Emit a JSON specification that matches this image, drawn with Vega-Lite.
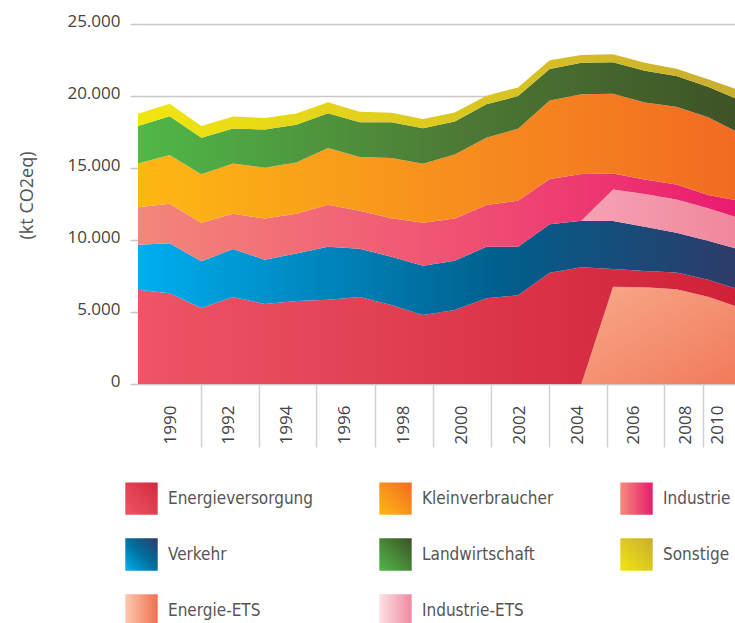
{
  "$schema": "https://vega.github.io/schema/vega-lite/v6.json",
  "width": 597,
  "height": 360,
  "autosize": "none",
  "padding": {"left": 138, "top": 24, "right": 0, "bottom": 239},
  "config": {
    "view": {"stroke": null},
    "locale": {"number": {"decimal": ",", "thousands": ".", "grouping": [3], "currency": ["", " €"]}},
    "axis": {"labelFont": "Open Sans", "titleFont": "Open Sans"},
    "legend": {"labelFont": "Liberation Sans Narrow, DejaVu Sans Condensed, Roboto Condensed, Noto Sans, sans-serif"}
  },
  "data": {
    "values": [
      {"year": 1990, "sector": "Energieversorgung", "kt": 6550}, {"year": 1991, "sector": "Energieversorgung", "kt": 6300}, {"year": 1992, "sector": "Energieversorgung", "kt": 5280}, {"year": 1993, "sector": "Energieversorgung", "kt": 6040}, {"year": 1994, "sector": "Energieversorgung", "kt": 5560}, {"year": 1995, "sector": "Energieversorgung", "kt": 5760}, {"year": 1996, "sector": "Energieversorgung", "kt": 5850}, {"year": 1997, "sector": "Energieversorgung", "kt": 6040}, {"year": 1998, "sector": "Energieversorgung", "kt": 5490}, {"year": 1999, "sector": "Energieversorgung", "kt": 4790}, {"year": 2000, "sector": "Energieversorgung", "kt": 5140}, {"year": 2001, "sector": "Energieversorgung", "kt": 5950}, {"year": 2002, "sector": "Energieversorgung", "kt": 6160}, {"year": 2003, "sector": "Energieversorgung", "kt": 7730}, {"year": 2004, "sector": "Energieversorgung", "kt": 8100}, {"year": 2005, "sector": "Energieversorgung", "kt": 1230}, {"year": 2006, "sector": "Energieversorgung", "kt": 1130}, {"year": 2007, "sector": "Energieversorgung", "kt": 1170}, {"year": 2008, "sector": "Energieversorgung", "kt": 1180}, {"year": 2009, "sector": "Energieversorgung", "kt": 1240},
      {"year": 1990, "sector": "Verkehr", "kt": 3125}, {"year": 1991, "sector": "Verkehr", "kt": 3470}, {"year": 1992, "sector": "Verkehr", "kt": 3240}, {"year": 1993, "sector": "Verkehr", "kt": 3330}, {"year": 1994, "sector": "Verkehr", "kt": 3075}, {"year": 1995, "sector": "Verkehr", "kt": 3310}, {"year": 1996, "sector": "Verkehr", "kt": 3680}, {"year": 1997, "sector": "Verkehr", "kt": 3350}, {"year": 1998, "sector": "Verkehr", "kt": 3350}, {"year": 1999, "sector": "Verkehr", "kt": 3420}, {"year": 2000, "sector": "Verkehr", "kt": 3420}, {"year": 2001, "sector": "Verkehr", "kt": 3580}, {"year": 2002, "sector": "Verkehr", "kt": 3375}, {"year": 2003, "sector": "Verkehr", "kt": 3360}, {"year": 2004, "sector": "Verkehr", "kt": 3240}, {"year": 2005, "sector": "Verkehr", "kt": 3330}, {"year": 2006, "sector": "Verkehr", "kt": 3080}, {"year": 2007, "sector": "Verkehr", "kt": 2765}, {"year": 2008, "sector": "Verkehr", "kt": 2710}, {"year": 2009, "sector": "Verkehr", "kt": 2790},
      {"year": 1990, "sector": "Industrie", "kt": 2600}, {"year": 1991, "sector": "Industrie", "kt": 2750}, {"year": 1992, "sector": "Industrie", "kt": 2680}, {"year": 1993, "sector": "Industrie", "kt": 2450}, {"year": 1994, "sector": "Industrie", "kt": 2850}, {"year": 1995, "sector": "Industrie", "kt": 2750}, {"year": 1996, "sector": "Industrie", "kt": 2920}, {"year": 1997, "sector": "Industrie", "kt": 2640}, {"year": 1998, "sector": "Industrie", "kt": 2670}, {"year": 1999, "sector": "Industrie", "kt": 2990}, {"year": 2000, "sector": "Industrie", "kt": 2940}, {"year": 2001, "sector": "Industrie", "kt": 2900}, {"year": 2002, "sector": "Industrie", "kt": 3190}, {"year": 2003, "sector": "Industrie", "kt": 3150}, {"year": 2004, "sector": "Industrie", "kt": 3240}, {"year": 2005, "sector": "Industrie", "kt": 1110}, {"year": 2006, "sector": "Industrie", "kt": 1010}, {"year": 2007, "sector": "Industrie", "kt": 1040}, {"year": 2008, "sector": "Industrie", "kt": 925}, {"year": 2009, "sector": "Industrie", "kt": 1200},
      {"year": 1990, "sector": "Kleinverbraucher", "kt": 3030}, {"year": 1991, "sector": "Kleinverbraucher", "kt": 3380}, {"year": 1992, "sector": "Kleinverbraucher", "kt": 3360}, {"year": 1993, "sector": "Kleinverbraucher", "kt": 3500}, {"year": 1994, "sector": "Kleinverbraucher", "kt": 3540}, {"year": 1995, "sector": "Kleinverbraucher", "kt": 3570}, {"year": 1996, "sector": "Kleinverbraucher", "kt": 3940}, {"year": 1997, "sector": "Kleinverbraucher", "kt": 3730}, {"year": 1998, "sector": "Kleinverbraucher", "kt": 4190}, {"year": 1999, "sector": "Kleinverbraucher", "kt": 4100}, {"year": 2000, "sector": "Kleinverbraucher", "kt": 4440}, {"year": 2001, "sector": "Kleinverbraucher", "kt": 4670}, {"year": 2002, "sector": "Kleinverbraucher", "kt": 5000}, {"year": 2003, "sector": "Kleinverbraucher", "kt": 5440}, {"year": 2004, "sector": "Kleinverbraucher", "kt": 5535}, {"year": 2005, "sector": "Kleinverbraucher", "kt": 5540}, {"year": 2006, "sector": "Kleinverbraucher", "kt": 5335}, {"year": 2007, "sector": "Kleinverbraucher", "kt": 5400}, {"year": 2008, "sector": "Kleinverbraucher", "kt": 5395}, {"year": 2009, "sector": "Kleinverbraucher", "kt": 4710},
      {"year": 1990, "sector": "Landwirtschaft", "kt": 2620}, {"year": 1991, "sector": "Landwirtschaft", "kt": 2690}, {"year": 1992, "sector": "Landwirtschaft", "kt": 2540}, {"year": 1993, "sector": "Landwirtschaft", "kt": 2430}, {"year": 1994, "sector": "Landwirtschaft", "kt": 2640}, {"year": 1995, "sector": "Landwirtschaft", "kt": 2610}, {"year": 1996, "sector": "Landwirtschaft", "kt": 2410}, {"year": 1997, "sector": "Landwirtschaft", "kt": 2410}, {"year": 1998, "sector": "Landwirtschaft", "kt": 2480}, {"year": 1999, "sector": "Landwirtschaft", "kt": 2460}, {"year": 2000, "sector": "Landwirtschaft", "kt": 2290}, {"year": 2001, "sector": "Landwirtschaft", "kt": 2320}, {"year": 2002, "sector": "Landwirtschaft", "kt": 2270}, {"year": 2003, "sector": "Landwirtschaft", "kt": 2200}, {"year": 2004, "sector": "Landwirtschaft", "kt": 2195}, {"year": 2005, "sector": "Landwirtschaft", "kt": 2180}, {"year": 2006, "sector": "Landwirtschaft", "kt": 2220}, {"year": 2007, "sector": "Landwirtschaft", "kt": 2130}, {"year": 2008, "sector": "Landwirtschaft", "kt": 2125}, {"year": 2009, "sector": "Landwirtschaft", "kt": 2270},
      {"year": 1990, "sector": "Sonstige", "kt": 850}, {"year": 1991, "sector": "Sonstige", "kt": 875}, {"year": 1992, "sector": "Sonstige", "kt": 810}, {"year": 1993, "sector": "Sonstige", "kt": 835}, {"year": 1994, "sector": "Sonstige", "kt": 810}, {"year": 1995, "sector": "Sonstige", "kt": 790}, {"year": 1996, "sector": "Sonstige", "kt": 765}, {"year": 1997, "sector": "Sonstige", "kt": 735}, {"year": 1998, "sector": "Sonstige", "kt": 665}, {"year": 1999, "sector": "Sonstige", "kt": 645}, {"year": 2000, "sector": "Sonstige", "kt": 625}, {"year": 2001, "sector": "Sonstige", "kt": 600}, {"year": 2002, "sector": "Sonstige", "kt": 600}, {"year": 2003, "sector": "Sonstige", "kt": 600}, {"year": 2004, "sector": "Sonstige", "kt": 535}, {"year": 2005, "sector": "Sonstige", "kt": 555}, {"year": 2006, "sector": "Sonstige", "kt": 555}, {"year": 2007, "sector": "Sonstige", "kt": 505}, {"year": 2008, "sector": "Sonstige", "kt": 515}, {"year": 2009, "sector": "Sonstige", "kt": 700},
      {"year": 2004, "sector": "Energie-ETS", "kt": 0}, {"year": 2005, "sector": "Energie-ETS", "kt": 6760}, {"year": 2006, "sector": "Energie-ETS", "kt": 6715}, {"year": 2007, "sector": "Energie-ETS", "kt": 6575}, {"year": 2008, "sector": "Energie-ETS", "kt": 6065}, {"year": 2009, "sector": "Energie-ETS", "kt": 5300},
      {"year": 2004, "sector": "Industrie-ETS", "kt": 0}, {"year": 2005, "sector": "Industrie-ETS", "kt": 2190}, {"year": 2006, "sector": "Industrie-ETS", "kt": 2270}, {"year": 2007, "sector": "Industrie-ETS", "kt": 2305}, {"year": 2008, "sector": "Industrie-ETS", "kt": 2250}, {"year": 2009, "sector": "Industrie-ETS", "kt": 2185}
    ]
  },
  "transform": [
    {"calculate": "indexof(['Energie-ETS','Energieversorgung','Verkehr','Industrie-ETS','Industrie','Kleinverbraucher','Landwirtschaft','Sonstige'], datum.sector)", "as": "ord"},
    {"stack": "kt", "groupby": ["year"], "sort": [{"field": "ord", "order": "ascending"}], "as": ["lo", "hi"]}
  ],
  "encoding": {
    "x": {
      "field": "year", "type": "quantitative",
      "scale": {"domain": [1990, 2008.85], "nice": false, "zero": false},
      "axis": {
        "title": null, "grid": false, "domain": false,
        "values": [1991.98, 1993.81, 1995.63, 1997.48, 1999.32, 2001.16, 2002.98, 2004.81, 2006.6, 2007.85, 2008.85],
        "labelExpr": "datum.value < 1993 ? '1990' : datum.value < 1995 ? '1992' : datum.value < 1997 ? '1994' : datum.value < 1999 ? '1996' : datum.value < 2000 ? '1998' : datum.value < 2002 ? '2000' : datum.value < 2004 ? '2002' : datum.value < 2006 ? '2004' : datum.value < 2007 ? '2006' : datum.value < 2008.5 ? '2008' : '2010'",
        "labelAngle": -90, "labelAlign": "right", "labelBaseline": "middle",
        "labelOffset": {"condition": {"test": "datum.value > 2007.5", "value": -18}, "value": -30},
        "tickOpacity": {"condition": {"test": "datum.value > 2008.5", "value": 0}, "value": 1},
        "labelOverlap": false, "labelFlush": false, "labelBound": false,
        "tickSize": 63, "tickColor": "#d2d2d2", "tickWidth": 1.5,
        "labelPadding": -42, "labelFontSize": 17, "labelColor": "#444444"
      }
    },
    "y": {
      "field": "hi", "type": "quantitative",
      "scale": {"domain": [0, 25000], "nice": false},
      "axis": {
        "values": [0, 5000, 10000, 15000, 20000, 25000], "format": ",d",
        "grid": true, "gridColor": "#c8c8c8", "gridWidth": 1.5,
        "tickSize": 8, "tickColor": "#c8c8c8", "tickWidth": 1.5, "domain": false,
        "labelPadding": 10, "labelFontSize": 17, "labelColor": "#444444", "labelOffset": -3,
        "title": "(kt CO2eq)", "titleX": -111, "titleY": 171, "titleFontSize": 18, "titleFontWeight": "normal",
        "titleColor": "#555555", "titleAngle": -90, "titleBaseline": "middle", "titleAlign": "center"
      }
    },
    "y2": {"field": "lo"}
  },
  "layer": [
    {"transform": [{"filter": "datum.sector === 'Energie-ETS'"}], "mark": {"type": "area", "clip": true, "color": {"gradient": "linear", "x1": 0, "y1": 0, "x2": 1, "y2": 1, "stops": [{"offset": 0, "color": "#f8a98a"}, {"offset": 1, "color": "#f07a5a"}]}}},
    {"transform": [{"filter": "datum.sector === 'Energieversorgung'"}], "mark": {"type": "area", "clip": true, "color": {"gradient": "linear", "x1": 0, "y1": 0, "x2": 1, "y2": 0, "stops": [{"offset": 0, "color": "#ee5566"}, {"offset": 1, "color": "#cf2038"}]}}},
    {"transform": [{"filter": "datum.sector === 'Verkehr'"}], "mark": {"type": "area", "clip": true, "color": {"gradient": "linear", "x1": 0, "y1": 0, "x2": 1, "y2": 0, "stops": [{"offset": 0, "color": "#00aeef"}, {"offset": 0.6, "color": "#005f8c"}, {"offset": 1, "color": "#2e3a68"}]}}},
    {"transform": [{"filter": "datum.sector === 'Industrie-ETS'"}], "mark": {"type": "area", "clip": true, "color": {"gradient": "linear", "x1": 0, "y1": 0, "x2": 1, "y2": 0, "stops": [{"offset": 0, "color": "#f5a3b3"}, {"offset": 1, "color": "#f0869c"}]}}},
    {"transform": [{"filter": "datum.sector === 'Industrie'"}], "mark": {"type": "area", "clip": true, "color": {"gradient": "linear", "x1": 0, "y1": 0, "x2": 1, "y2": 0, "stops": [{"offset": 0, "color": "#f3877a"}, {"offset": 0.55, "color": "#f04f73"}, {"offset": 1, "color": "#ea1a6f"}]}}},
    {"transform": [{"filter": "datum.sector === 'Kleinverbraucher'"}], "mark": {"type": "area", "clip": true, "color": {"gradient": "linear", "x1": 0, "y1": 0, "x2": 1, "y2": 0, "stops": [{"offset": 0, "color": "#fdb813"}, {"offset": 0.5, "color": "#f7901e"}, {"offset": 1, "color": "#f26a22"}]}}},
    {"transform": [{"filter": "datum.sector === 'Landwirtschaft'"}], "mark": {"type": "area", "clip": true, "color": {"gradient": "linear", "x1": 0, "y1": 0, "x2": 1, "y2": 0, "stops": [{"offset": 0, "color": "#50b848"}, {"offset": 0.5, "color": "#4d7d36"}, {"offset": 1, "color": "#3e5226"}]}}},
    {"transform": [{"filter": "datum.sector === 'Sonstige'"}], "mark": {"type": "area", "clip": true, "color": {"gradient": "linear", "x1": 0, "y1": 0, "x2": 1, "y2": 0, "stops": [{"offset": 0, "color": "#f0e60f"}, {"offset": 1, "color": "#c9ad2f"}]}}},
    {
      "transform": [{"filter": "datum.kt < -1"}],
      "mark": {"type": "square"},
      "encoding": {
        "y2": null,
        "color": {
          "field": "sector", "type": "nominal",
          "scale": {
            "domain": ["Energieversorgung", "Verkehr", "Energie-ETS", "Kleinverbraucher", "Landwirtschaft", "Industrie-ETS", "Industrie", "Sonstige"],
            "range": [
              {"expr": "{gradient: 'linear', x1: 0, y1: 1, x2: 1, y2: 0, stops: [{offset: 0, color: '#ee5566'}, {offset: 1, color: '#d42a3e'}]}"},
              {"expr": "{gradient: 'linear', x1: 0, y1: 1, x2: 1, y2: 0, stops: [{offset: 0, color: '#00aeef'}, {offset: 0.5, color: '#0070a0'}, {offset: 1, color: '#2e3a68'}]}"},
              {"expr": "{gradient: 'linear', x1: 0, y1: 0, x2: 1, y2: 0, stops: [{offset: 0, color: '#fcc9b0'}, {offset: 1, color: '#f07050'}]}"},
              {"expr": "{gradient: 'linear', x1: 0, y1: 1, x2: 1, y2: 0, stops: [{offset: 0, color: '#fdb813'}, {offset: 1, color: '#f26b22'}]}"},
              {"expr": "{gradient: 'linear', x1: 0, y1: 1, x2: 1, y2: 0, stops: [{offset: 0, color: '#50b848'}, {offset: 1, color: '#3e5226'}]}"},
              {"expr": "{gradient: 'linear', x1: 0, y1: 0, x2: 1, y2: 0, stops: [{offset: 0, color: '#fde0e5'}, {offset: 1, color: '#f08aa0'}]}"},
              {"expr": "{gradient: 'linear', x1: 0, y1: 0, x2: 1, y2: 0, stops: [{offset: 0, color: '#f38b7a'}, {offset: 1, color: '#ea1a6f'}]}"},
              {"expr": "{gradient: 'linear', x1: 0, y1: 1, x2: 1, y2: 0, stops: [{offset: 0, color: '#f0e60f'}, {offset: 1, color: '#c9ad2f'}]}"}
            ]
          },
          "legend": {
            "title": null, "orient": "none", "legendX": -13, "legendY": 458, "columns": 3, "padding": 0,
            "symbolType": "square", "symbolSize": 1050, "symbolStrokeWidth": 0, "symbolOpacity": 1,
            "labelFontSize": 17, "labelColor": "#555555", "labelOffset": 10, "labelLimit": 300,
            "rowPadding": 23, "columnPadding": 66
          }
        }
      }
    }
  ]
}
